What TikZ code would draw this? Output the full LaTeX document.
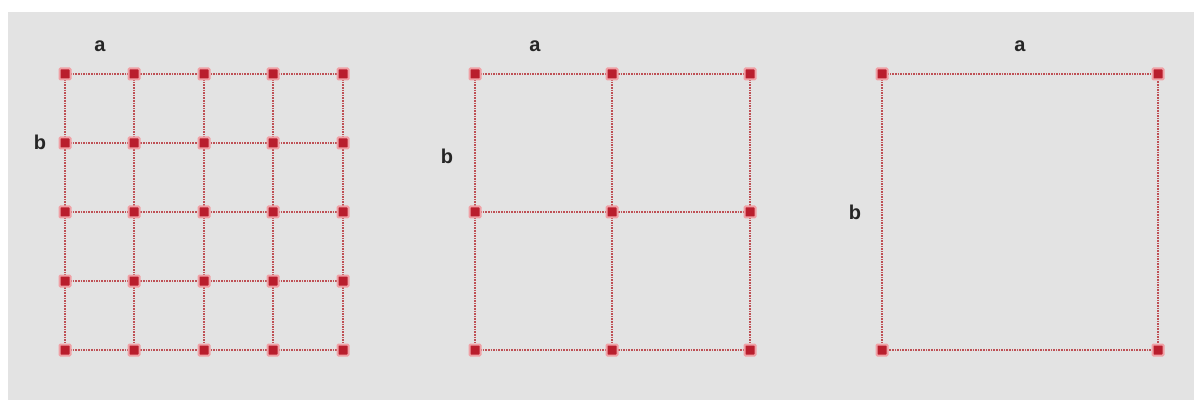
\documentclass[tikz,border=0pt]{standalone}
\usepackage{fontspec}
\setmainfont{Liberation Sans}
\definecolor{linec}{RGB}{190,80,85}
\definecolor{dotc}{RGB}{185,30,45}
\definecolor{glowc}{RGB}{240,160,165}
\begin{document}
\begin{tikzpicture}[x=1pt,y=-1pt,
  gridline/.style={draw=linec, line width=1.3pt, dash pattern=on 1.6pt off 1pt},
  dot/.style={fill=dotc, draw=glowc, line width=2pt, minimum size=11pt, inner sep=0pt, rectangle, rounded corners=1pt},
  lbl/.style={font=\bfseries\fontsize{20}{20}\selectfont, text=black!85}]
\useasboundingbox (0,0) rectangle (1198,403);
\fill[white] (0,0) rectangle (1198,403);
\fill[gray!22] (8,12) rectangle (1194,400);
% grid 1
\foreach \i/\x in {1/65,2/134,3/204,4/273,5/343}{
  \foreach \j/\y in {1/74,2/143,3/212,4/281,5/350}{
    \coordinate (g\i\j) at (\x,\y);
  }
}
\foreach \j in {1,...,5}{ \draw[gridline] (g1\j) -- (g5\j); \draw[gridline] (g\j1) -- (g\j5); }
\foreach \i in {1,...,5}{ \foreach \j in {1,...,5}{ \node[dot] (d\i\j) at (g\i\j) {}; } }
\node[lbl] (a1) at (100,46) {a};
\node[lbl] (b1) at (40,142) {b};
% grid 2
\foreach \i/\x in {1/475,2/612,3/750}{
  \foreach \j/\y in {1/74,2/212,3/350}{
    \coordinate (h\i\j) at (\x,\y);
  }
}
\foreach \j in {1,...,3}{ \draw[gridline] (h1\j) -- (h3\j); \draw[gridline] (h\j1) -- (h\j3); }
\foreach \i in {1,...,3}{ \foreach \j in {1,...,3}{ \node[dot] (e\i\j) at (h\i\j) {}; } }
\node[lbl] (a2) at (535,46) {a};
\node[lbl] (b2) at (447,156) {b};
% grid 3
\coordinate (k11) at (882,74);
\coordinate (k21) at (1158,74);
\coordinate (k12) at (882,350);
\coordinate (k22) at (1158,350);
\draw[gridline] (k11) -- (k21) -- (k22) -- (k12) -- cycle;
\foreach \n in {11,21,12,22}{ \node[dot] (f\n) at (k\n) {}; }
\node[lbl] (a3) at (1020,46) {a};
\node[lbl] (b3) at (855,212) {b};
\end{tikzpicture}
\end{document}
